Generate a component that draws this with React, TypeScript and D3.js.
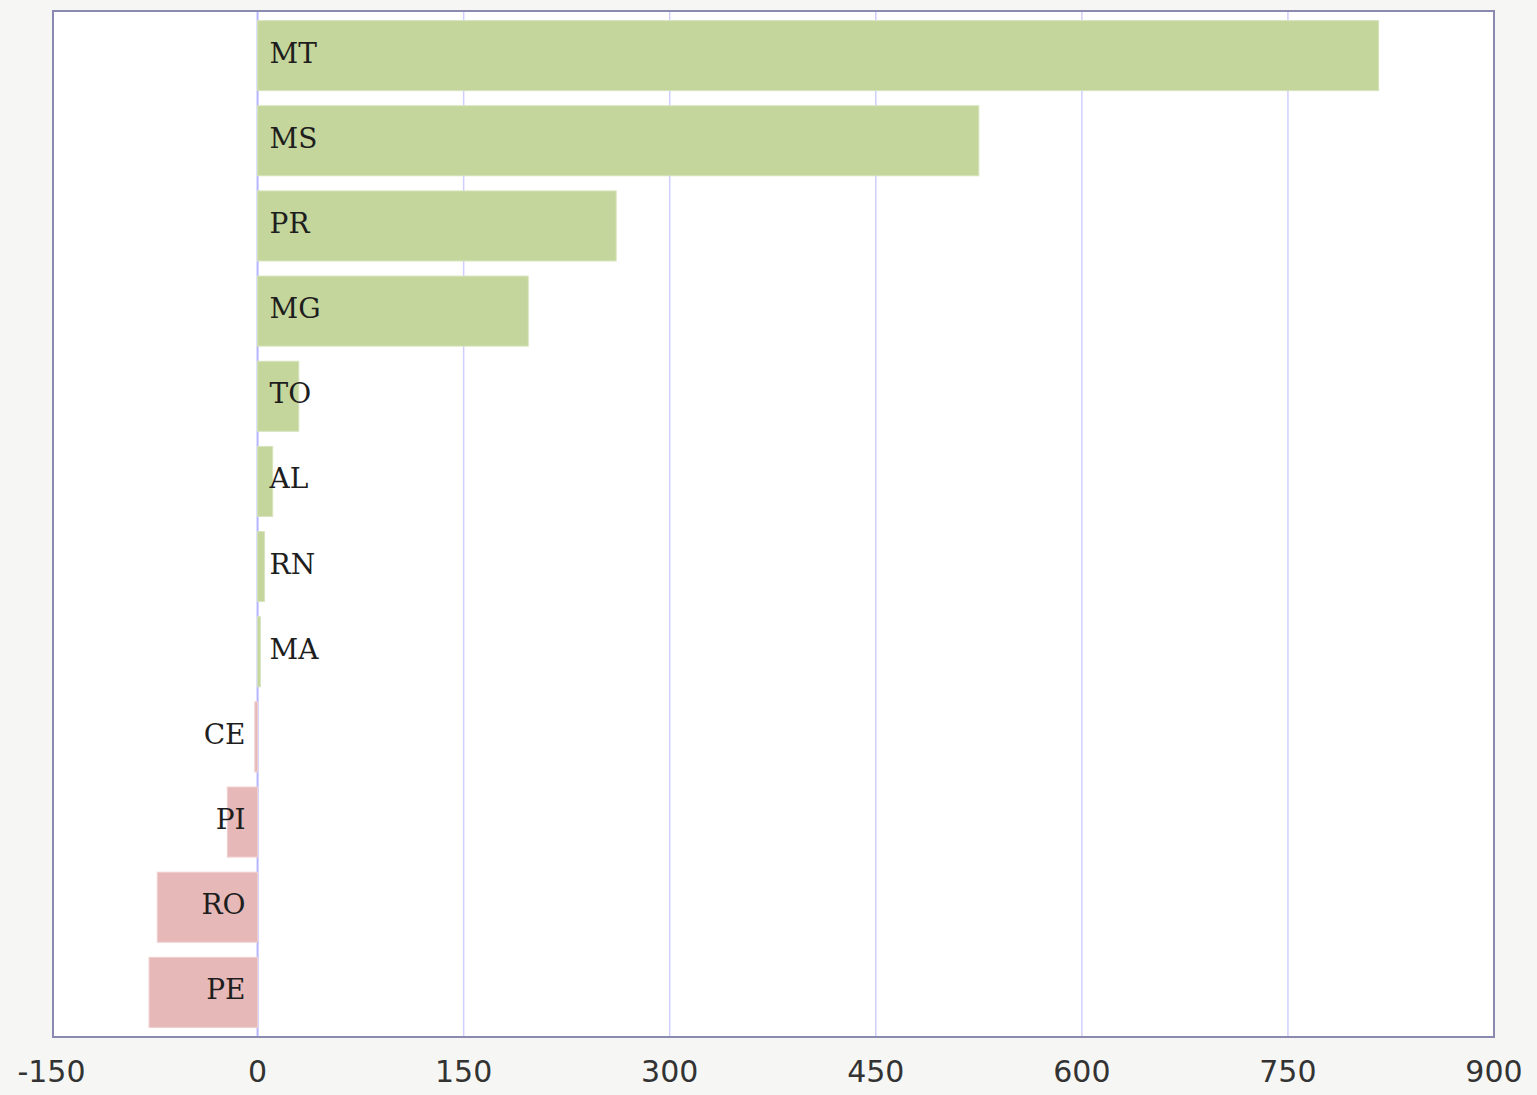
import React from "react";
import * as d3 from "d3";

const states = ["MT", "MS", "PR", "MG", "TO", "AL", "RN", "MA", "CE", "PI", "RO", "PE"];
const values = [816, 525, 261, 197, 30, 11, 5, 2, -2, -22, -73, -79];
const ticks = [-150, 0, 150, 300, 450, 600, 750, 900];

const W = 1537;
const H = 1095;

export default function App() {
  const x = d3.scaleLinear().domain([-150, 900]).range([51.5, 1494]);
  const y = d3
    .scaleBand<string>()
    .domain(states)
    .range([11, 1037])
    .paddingInner(0.178)
    .paddingOuter(0.113);
  const data = states.map((s, i) => ({ s, v: values[i] }));
  const x0 = x(0);
  return (
    <svg
      width={W}
      height={H}
      style={{ position: "absolute", left: 0, top: 0, display: "block" }}
    >
      <rect x={0} y={0} width={W} height={H} fill="#f6f7f4" />
      <rect x={53} y={11} width={1441} height={1026} fill="#ffffff" />
      {ticks.slice(1, -1).map((t) => (
        <line
          key={t}
          x1={x(t)}
          x2={x(t)}
          y1={11}
          y2={1037}
          stroke={t === 0 ? "#b4b4ff" : "#cfcfff"}
          strokeWidth={t === 0 ? 2 : 1.5}
        />
      ))}
      {data.map((d) => {
        const bx = Math.min(x(d.v), x0);
        const bw = Math.abs(x(d.v) - x0);
        return (
          <rect
            key={d.s}
            x={bx}
            y={y(d.s)}
            width={Math.max(bw, 0.8)}
            height={y.bandwidth()}
            fill={d.v >= 0 ? "#c4d69b" : "#e6b9b8"}
            stroke={d.v >= 0 ? "#d6e3bb" : "#efcfcf"}
            strokeWidth={1}
          />
        );
      })}
      {data.map((d) => (
        <text
          key={d.s + "l"}
          x={d.v >= 0 ? x0 + 12 : x0 - 12}
          y={(y(d.s) as number) + y.bandwidth() / 2 + 7}
          textAnchor={d.v >= 0 ? "start" : "end"}
          fontFamily="'DejaVu Serif', serif"
          fontSize={28}
          fill="#1e1e1e"
        >
          {d.s}
        </text>
      ))}
      <rect
        x={53}
        y={11}
        width={1441}
        height={1026}
        fill="none"
        stroke="#8a8ab0"
        strokeWidth={2}
      />
      {ticks.map((t) => (
        <text
          key={"t" + t}
          x={x(t)}
          y={1082}
          textAnchor="middle"
          fontFamily="'DejaVu Sans', sans-serif"
          fontSize={30}
          fill="#333333"
        >
          {t}
        </text>
      ))}
    </svg>
  );
}
